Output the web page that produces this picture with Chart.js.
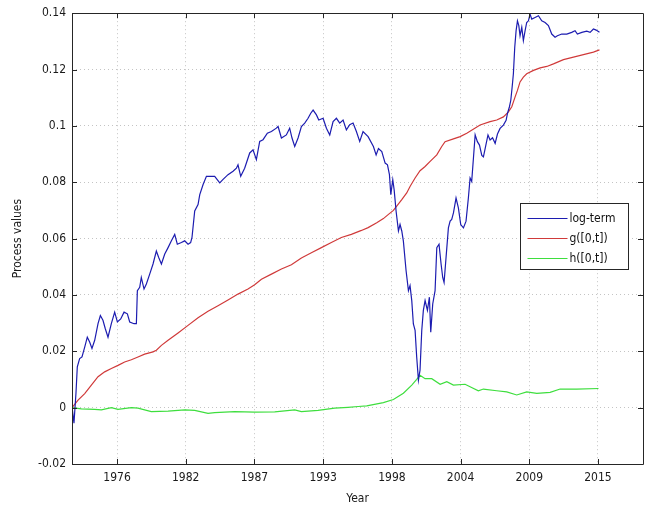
<!DOCTYPE html>
<html>
<head>
<meta charset="utf-8">
<title>Process values</title>
<script src="https://cdn.jsdelivr.net/npm/chart.js@4.4.1/dist/chart.umd.min.js"></script>
<style>
  html, body { margin: 0; padding: 0; background: #fff; }
  #chart { display: block; }
</style>
</head>
<body>
<canvas id="chart" width="663" height="506"></canvas>
<script>
// series (x in decimal years)
var logYears = [1972.85, 1973.01, 1973.17, 1973.28, 1973.47, 1973.66, 1973.88, 1974.09, 1974.28, 1974.47,
	1974.69, 1974.96, 1975.15, 1975.36, 1975.55, 1975.77, 1976.04, 1976.31, 1976.53, 1976.80,
	1977.07, 1977.34, 1977.53, 1977.88, 1978.07, 1978.15, 1978.34, 1978.47, 1978.69, 1978.88,
	1979.15, 1979.42, 1979.69, 1979.88, 1980.10, 1980.37, 1980.64, 1980.91, 1981.18, 1981.39,
	1981.72, 1981.99, 1982.26, 1982.47, 1982.58, 1982.80, 1983.07, 1983.21, 1983.48, 1983.75,
	1984.02, 1984.42, 1984.83, 1985.10, 1985.50, 1985.91, 1986.18, 1986.31, 1986.53, 1986.85,
	1987.26, 1987.53, 1987.80, 1988.07, 1988.34, 1988.69, 1989.02, 1989.42, 1989.56, 1989.83,
	1990.23, 1990.50, 1990.69, 1990.91, 1991.18, 1991.45, 1991.72, 1991.99, 1992.21, 1992.40,
	1992.67, 1992.86, 1993.21, 1993.48, 1993.75, 1994.02, 1994.29, 1994.56, 1994.83, 1995.10,
	1995.37, 1995.64, 1995.91, 1996.18, 1996.45, 1996.86, 1997.29, 1997.51, 1997.70, 1997.97,
	1998.24, 1998.43, 1998.59, 1998.70, 1998.86, 1998.97, 1999.13, 1999.32, 1999.45, 1999.59,
	1999.72, 1999.94, 2000.13, 2000.26, 2000.40, 2000.53, 2000.67, 2000.80, 2000.94, 2001.07,
	2001.21, 2001.34, 2001.48, 2001.67, 2001.83, 2001.94, 2002.10, 2002.29, 2002.43, 2002.61,
	2002.78, 2002.91, 2003.02, 2003.18, 2003.37, 2003.51, 2003.64, 2003.78, 2003.99, 2004.18,
	2004.37, 2004.59, 2004.80, 2004.99, 2005.13, 2005.26, 2005.40, 2005.54, 2005.72, 2005.89,
	2006.08, 2006.21, 2006.40, 2006.58, 2006.75, 2006.95, 2007.16, 2007.35, 2007.56, 2007.83,
	2008.05, 2008.16, 2008.32, 2008.43, 2008.54, 2008.64, 2008.75, 2008.86, 2008.97, 2009.08,
	2009.18, 2009.32, 2009.45, 2009.59, 2009.72, 2009.86, 2009.99, 2010.13, 2010.40, 2010.67,
	2010.94, 2011.21, 2011.48, 2011.75, 2012.02, 2012.21, 2012.56, 2012.97, 2013.37, 2013.64,
	2013.83, 2014.19, 2014.59, 2014.86, 2015.13, 2015.35, 2015.62];
var logValues = [0.0004, -0.0055, 0.005, 0.0145, 0.0174, 0.018, 0.0215, 0.025, 0.0233, 0.021,
	0.0239, 0.0298, 0.0327, 0.031, 0.028, 0.025, 0.0298, 0.0339, 0.0304, 0.0315,
	0.0339, 0.0333, 0.0304, 0.0298, 0.0298, 0.0415, 0.0427, 0.0462, 0.0421, 0.0439,
	0.0474, 0.051, 0.0556, 0.0533, 0.051, 0.0545, 0.0568, 0.0592, 0.0615, 0.058,
	0.0586, 0.0592, 0.058, 0.0586, 0.0604, 0.0698, 0.0721, 0.0756, 0.0792, 0.0821,
	0.0821, 0.0821, 0.0798, 0.081, 0.0827, 0.0839, 0.085, 0.0862, 0.0821, 0.085,
	0.0904, 0.0915, 0.088, 0.0945, 0.0951, 0.0974, 0.098, 0.0992, 0.0998, 0.0957,
	0.0968, 0.0992, 0.0957, 0.0927, 0.0957, 0.0998, 0.101, 0.1027, 0.1045, 0.1056,
	0.1039, 0.1021, 0.1027, 0.0992, 0.0968, 0.1015, 0.1027, 0.101, 0.1021, 0.0986,
	0.1004, 0.101, 0.098, 0.0945, 0.098, 0.0962, 0.0927, 0.0897, 0.092, 0.0909,
	0.0868, 0.0862, 0.0827, 0.0756, 0.0809, 0.0774, 0.0697, 0.0627, 0.065, 0.0627,
	0.0591, 0.0486, 0.0415, 0.0433, 0.038, 0.0297, 0.0274, 0.018, 0.0098, 0.0133,
	0.0274, 0.0345, 0.038, 0.0345, 0.0392, 0.0268, 0.0368, 0.0415, 0.0568, 0.058,
	0.0509, 0.0462, 0.0444, 0.0533, 0.0638, 0.0662, 0.0668, 0.0691, 0.0744, 0.0709,
	0.065, 0.0638, 0.0662, 0.0744, 0.0815, 0.0803, 0.0885, 0.0968, 0.0944, 0.0932,
	0.0895, 0.089, 0.093, 0.0968, 0.095, 0.0958, 0.0938, 0.0971, 0.0991, 0.1003,
	0.102, 0.1044, 0.1068, 0.1091, 0.1138, 0.1185, 0.1279, 0.1338, 0.1373, 0.1356,
	0.132, 0.135, 0.1303, 0.1338, 0.1367, 0.1373, 0.1397, 0.1379, 0.1385, 0.1391,
	0.1373, 0.1367, 0.1356, 0.1326, 0.1315, 0.132, 0.1326, 0.1326, 0.1332, 0.1338,
	0.1326, 0.1332, 0.1336, 0.1332, 0.1344, 0.134, 0.1332];

var gYears = [1972.85, 1973.34, 1973.88, 1974.42, 1974.96, 1975.50, 1976.04, 1976.58, 1977.12, 1977.66,
	1978.20, 1978.74, 1979.42, 1979.69, 1980.10, 1980.64, 1981.45, 1982.26, 1983.07, 1983.88,
	1984.69, 1985.50, 1986.31, 1987.12, 1987.66, 1988.21, 1989.02, 1989.83, 1990.64, 1991.45,
	1992.26, 1993.07, 1993.88, 1994.69, 1995.50, 1996.32, 1996.86, 1997.56, 1998.10, 1998.51,
	1998.91, 1999.18, 1999.59, 1999.99, 2000.26, 2000.67, 2001.07, 2001.48, 2001.89, 2002.43,
	2002.83, 2003.10, 2003.78, 2004.32, 2004.86, 2005.94, 2006.75, 2007.29, 2007.83, 2008.24,
	2008.51, 2008.78, 2008.97, 2009.18, 2009.45, 2009.72, 2010.27, 2010.81, 2011.35, 2011.89,
	2012.70, 2013.51, 2014.32, 2015.13, 2015.62];
var gValues = [0, 0.0027, 0.005, 0.008, 0.011, 0.0127, 0.0139, 0.015, 0.0162, 0.017,
	0.018, 0.019, 0.0198, 0.0204, 0.0221, 0.0239, 0.0265, 0.0292, 0.0319, 0.0342,
	0.0362, 0.0382, 0.0403, 0.0421, 0.0436, 0.0456, 0.0474, 0.0492, 0.0507, 0.0531,
	0.055, 0.0568, 0.0586, 0.0604, 0.0615, 0.0629, 0.0639, 0.0656, 0.0671, 0.0686,
	0.07, 0.0715, 0.0738, 0.0762, 0.0785, 0.0815, 0.0841, 0.0856, 0.0874, 0.0897,
	0.0927, 0.0944, 0.0954, 0.0962, 0.0974, 0.1003, 0.1015, 0.1021, 0.1032, 0.105,
	0.1068, 0.1103, 0.1126, 0.1156, 0.1173, 0.1185, 0.1197, 0.1206, 0.1211, 0.122,
	0.1235, 0.1244, 0.1253, 0.1262, 0.127];

var hYears = [1972.85, 1973.61, 1974.69, 1975.23, 1976.04, 1976.58, 1977.66, 1978.20, 1979.28, 1980.64,
	1981.99, 1982.80, 1983.88, 1984.42, 1986.04, 1987.66, 1989.29, 1990.91, 1991.45, 1992.80,
	1994.15, 1995.23, 1996.05, 1996.75, 1998.10, 1998.91, 1999.72, 2000.40, 2000.80, 2001.07,
	2001.48, 2002.02, 2002.70, 2003.24, 2003.78, 2004.72, 2005.80, 2006.21, 2007.29, 2008.10,
	2008.91, 2009.72, 2010.54, 2011.62, 2012.43, 2013.78, 2015.54];
var hValues = [0, -0.0004, -0.0006, -0.0008, 0, -0.0006, 0, -0.0002, -0.0014, -0.0012,
	-0.0008, -0.001, -0.002, -0.0018, -0.0014, -0.0016, -0.0015, -0.0008, -0.0014, -0.001,
	-0.0002, 0.0001, 0.0004, 0.0006, 0.0018, 0.0029, 0.0051, 0.008, 0.01, 0.0115,
	0.0103, 0.0103, 0.0083, 0.0092, 0.008, 0.0083, 0.006, 0.0066, 0.006, 0.0056,
	0.0045, 0.0056, 0.0051, 0.0054, 0.0066, 0.0066, 0.0068];

var seriesNames = ["log-term", "g([0,t])", "h([0,t])"];
var seriesColors = ["#1c1cb0", "#d03a3a", "#3ede3e"];

// datetick positions (evenly spaced) and their labels
var xTickValues = [1976.5, 1982.07, 1987.64, 1993.22, 1998.79, 2004.36, 2009.93, 2015.5];
var xTickLabels = ["1976", "1982", "1987", "1993", "1998", "2004", "2009", "2015"];
var xMin = 1972.85, xMax = 2019.15;
var yMin = -0.02, yMax = 0.14, yStep = 0.02;

var FONT = "'Liberation Sans Narrow', 'DejaVu Sans Condensed', 'Liberation Sans', sans-serif";

function toPoints(xs, ys) {
	return xs.map(function (x, i) {
		return { x: x, y: ys[i] };
	});
}

// box, inward ticks on all four sides and the legend, MATLAB style
var matlabFrame = {
	id: "matlabFrame",
	afterDraw: function (chart) {
		var ctx = chart.ctx;
		var a = chart.chartArea;
		var xs = chart.scales.x, ys = chart.scales.y;
		var tl = 5;
		ctx.save();
		ctx.strokeStyle = "#262626";
		ctx.lineWidth = 1;
		ctx.beginPath();
		ctx.rect(Math.round(a.left) + 0.5, Math.round(a.top) + 0.5, Math.round(a.right - a.left), Math.round(a.bottom - a.top));
		xs.ticks.forEach(function (t) {
			var px = Math.round(xs.getPixelForValue(t.value)) + 0.5;
			ctx.moveTo(px, a.bottom);
			ctx.lineTo(px, a.bottom - tl);
			ctx.moveTo(px, a.top);
			ctx.lineTo(px, a.top + tl);
		});
		ys.ticks.forEach(function (t) {
			var py = Math.round(ys.getPixelForValue(t.value)) + 0.5;
			ctx.moveTo(a.left, py);
			ctx.lineTo(a.left + tl, py);
			ctx.moveTo(a.right, py);
			ctx.lineTo(a.right - tl, py);
		});
		ctx.stroke();

		// legend box
		var bx = 520.5, by = 203.5, bw = 108, bh = 66;
		ctx.fillStyle = "#fff";
		ctx.fillRect(bx, by, bw, bh);
		ctx.strokeStyle = "#262626";
		ctx.strokeRect(bx, by, bw, bh);
		ctx.font = "12px " + FONT;
		ctx.textBaseline = "middle";
		ctx.textAlign = "left";
		for (var i = 0; i < seriesNames.length; i++) {
			var ry = by + 15 + i * 20;
			ctx.strokeStyle = seriesColors[i];
			ctx.lineWidth = 1.2;
			ctx.beginPath();
			ctx.moveTo(bx + 7, ry);
			ctx.lineTo(bx + 47, ry);
			ctx.stroke();
			ctx.fillStyle = "#111";
			ctx.fillText(seriesNames[i], bx + 49, ry);
		}
		ctx.restore();
	}
};

var datasets = [
	{ label: seriesNames[0], data: toPoints(logYears, logValues) },
	{ label: seriesNames[1], data: toPoints(gYears, gValues) },
	{ label: seriesNames[2], data: toPoints(hYears, hValues) }
].map(function (d, i) {
	d.borderColor = seriesColors[i];
	d.backgroundColor = seriesColors[i];
	d.borderWidth = 1.2;
	d.pointRadius = 0;
	d.tension = 0;
	d.fill = false;
	return d;
});

var canvas = document.getElementById("chart");
var chart = new Chart(canvas.getContext("2d"), {
	type: "line",
	data: { datasets: datasets },
	plugins: [matlabFrame],
	options: {
		responsive: false,
		animation: false,
		devicePixelRatio: 1,
		layout: { padding: { top: 11, right: 20, left: 0, bottom: 0 } },
		plugins: {
			legend: { display: false },
			tooltip: { enabled: false }
		},
		scales: {
			x: {
				type: "linear",
				min: xMin,
				max: xMax,
				afterBuildTicks: function (scale) {
					scale.ticks = xTickValues.map(function (v) { return { value: v }; });
				},
				afterFit: function (scale) { scale.height = 42; },
				ticks: {
					autoSkip: false,
					maxRotation: 0,
					padding: 7,
					color: "#1a1a1a",
					font: { family: FONT, size: 12 },
					callback: function (v, i) { return xTickLabels[i]; }
				},
				grid: { color: "#c4c4c4", lineWidth: 1, drawTicks: false },
				border: { display: false, dash: [1, 3] },
				title: {
					display: true,
					text: "Year",
					color: "#1a1a1a",
					font: { family: FONT, size: 12 },
					padding: { top: 4, bottom: 0 }
				}
			},
			y: {
				min: yMin,
				max: yMax,
				afterFit: function (scale) { scale.width = 72; },
				ticks: {
					stepSize: yStep,
					padding: 6,
					color: "#1a1a1a",
					font: { family: FONT, size: 12 },
					callback: function (v) { return String(Number(v.toFixed(2))); }
				},
				grid: { color: "#c4c4c4", lineWidth: 1, drawTicks: false },
				border: { display: false, dash: [1, 3] },
				title: {
					display: true,
					text: "Process values",
					color: "#1a1a1a",
					font: { family: FONT, size: 12 },
					padding: { top: 11, bottom: 0 }
				}
			}
		}
	}
});
</script>
</body>
</html>
